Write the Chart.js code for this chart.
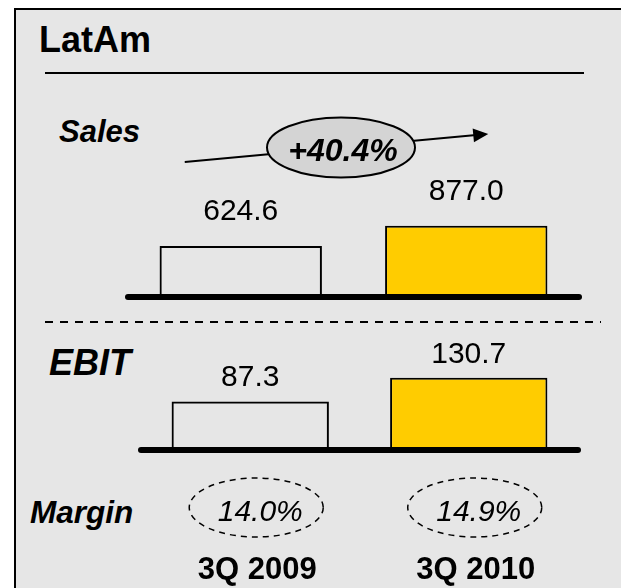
<!DOCTYPE html>
<html>
<head>
<meta charset="utf-8">
<script src="https://cdn.jsdelivr.net/npm/chart.js@4.4.0/dist/chart.umd.min.js"></script>
<style>
  html, body { margin:0; padding:0; background:#fff; width:621px; height:588px; overflow:hidden;
    font-family:"Liberation Sans", Arial, sans-serif; }
  #panel { position:absolute; left:14px; top:8px; width:607px; height:580px; box-sizing:border-box;
    border-left:2px solid #000; border-top:2px solid #000; background:#e6e6e6; }
  canvas { position:absolute; left:0; top:0; }
  .lbl { position:absolute; line-height:1; white-space:nowrap; color:#000; }
  #title  { left:39px; top:22px; font-size:36px; font-weight:bold; }
  #rule   { position:absolute; left:45px; top:72px; width:539px; height:2px; background:#000; }
  #dashes { position:absolute; left:45px; top:321px; width:556px; height:2px;
    background:repeating-linear-gradient(to right,#000 0 8px,transparent 8px 15px); }
  #sales  { left:59px; top:116px; font-size:31px; font-weight:bold; font-style:italic; }
  #ebit   { left:49px; top:345px; font-size:36px; font-weight:bold; font-style:italic; }
  #margin { left:30px; top:497px; font-size:31.5px; font-weight:bold; font-style:italic; }
</style>
</head>
<body>
<div id="panel"></div>
<div class="lbl" id="title">LatAm</div>
<div id="rule"></div>
<div id="dashes"></div>
<div class="lbl" id="sales">Sales</div>
<div class="lbl" id="ebit">EBIT</div>
<div class="lbl" id="margin">Margin</div>
<canvas id="chart-sales" width="621" height="588"></canvas>
<canvas id="chart-ebit" width="621" height="588"></canvas>
<script>
// ---- data ----
const categories   = ['3Q 2009', '3Q 2010'];
const salesValues  = [624.6, 877.0];
const ebitValues   = [87.3, 130.7];
const marginLabels = ['14.0%', '14.9%'];
const salesGrowth  = '+40.4%';

const FONT   = '"Liberation Sans", Arial, sans-serif';
const YELLOW = '#ffcc00';
const barFill = ['rgba(0,0,0,0)', YELLOW];

// thick baseline + value labels above the bars
function barDecor(id, gap, extra) {
  return {
    id,
    afterDatasetsDraw(chart) {
      const { ctx, chartArea } = chart;
      ctx.save();
      ctx.strokeStyle = '#000';
      ctx.lineWidth = 6;
      ctx.lineCap = 'round';
      ctx.beginPath();
      ctx.moveTo(chartArea.left, chartArea.bottom + 1);
      ctx.lineTo(chartArea.right, chartArea.bottom + 1);
      ctx.stroke();

      const ds = chart.data.datasets[0].data;
      ctx.fillStyle = '#000';
      ctx.font = '30px ' + FONT;
      ctx.textAlign = 'center';
      ctx.textBaseline = 'alphabetic';
      chart.getDatasetMeta(0).data.forEach((bar, i) => {
        ctx.fillText(ds[i].toFixed(1), bar.x, bar.y - gap);
      });
      ctx.restore();
      if (extra) extra(chart);
    }
  };
}

// growth arrow with the grey oval
function drawGrowth(chart) {
  const { ctx, chartArea, scales } = chart;
  const x0 = scales.x.getPixelForValue(0), x1 = scales.x.getPixelForValue(1);
  const sx = x0 - 56, sy = chartArea.top + 2;
  const ex = x1 + 22, ey = chartArea.top - 26;
  ctx.save();
  ctx.strokeStyle = '#000';
  ctx.fillStyle = '#000';
  ctx.lineWidth = 2;
  ctx.beginPath();
  ctx.moveTo(sx, sy);
  ctx.lineTo(ex - 12, ey + 1.1);
  ctx.stroke();
  const ang = Math.atan2(ey - sy, ex - sx);
  ctx.beginPath();
  ctx.moveTo(ex, ey);
  ctx.lineTo(ex - 15 * Math.cos(ang) + 7 * Math.sin(ang), ey - 15 * Math.sin(ang) - 7 * Math.cos(ang));
  ctx.lineTo(ex - 15 * Math.cos(ang) - 7 * Math.sin(ang), ey - 15 * Math.sin(ang) + 7 * Math.cos(ang));
  ctx.closePath();
  ctx.fill();

  const cx = (x0 + x1) / 2 - 12.5, cy = chartArea.top - 12.5;
  ctx.beginPath();
  ctx.ellipse(cx, cy, 74, 30, 0, 0, Math.PI * 2);
  ctx.fillStyle = '#d4d4d4';
  ctx.fill();
  ctx.stroke();
  ctx.fillStyle = '#000';
  ctx.font = 'italic bold 32px ' + FONT;
  ctx.textAlign = 'center';
  ctx.textBaseline = 'alphabetic';
  ctx.fillText(salesGrowth, cx + 2, cy + 13.5);
  ctx.restore();
}

// dashed ovals with margin percentages, period labels underneath
function drawMargins(chart) {
  const { ctx, scales } = chart;
  ctx.save();
  ctx.strokeStyle = '#000';
  ctx.fillStyle = '#000';
  ctx.lineWidth = 1.5;
  ctx.setLineDash([6, 5]);
  ctx.textAlign = 'center';
  ctx.textBaseline = 'alphabetic';
  categories.forEach((c, i) => {
    const x = scales.x.getPixelForValue(i);
    ctx.beginPath();
    ctx.ellipse(x + 6, 507.5, 67, 29.5, 0, 0, Math.PI * 2);
    ctx.stroke();
    ctx.font = 'italic 30px ' + FONT;
    ctx.fillText(marginLabels[i], x + 10, 521);
    ctx.font = 'bold 31px ' + FONT;
    ctx.fillText(c, x + 7, 579);
  });
  ctx.restore();
}

function barDataset(data) {
  return {
    data,
    backgroundColor: barFill,
    borderColor: '#000',
    borderWidth: 2,
    borderSkipped: false,
    categoryPercentage: 1,
    barPercentage: 0.72,
  };
}

Chart.defaults.font.family = FONT;

new Chart(document.getElementById('chart-sales'), {
  type: 'bar',
  data: { labels: categories, datasets: [barDataset(salesValues)] },
  options: {
    responsive: false,
    animation: false,
    devicePixelRatio: 1,
    layout: { padding: { left: 128, right: 42, top: 160, bottom: 292 } },
    plugins: { legend: { display: false }, tooltip: { enabled: false } },
    scales: {
      x: { display: false },
      y: { display: false, min: 0, max: 1700 },
    }
  },
  plugins: [barDecor('salesDecor', 26, drawGrowth)]
});

new Chart(document.getElementById('chart-ebit'), {
  type: 'bar',
  data: { labels: categories, datasets: [barDataset(ebitValues)] },
  options: {
    responsive: false,
    animation: false,
    devicePixelRatio: 1,
    layout: { padding: { left: 141, right: 43, top: 369, bottom: 139 } },
    plugins: { legend: { display: false }, tooltip: { enabled: false } },
    scales: {
      x: { display: false },
      y: { display: false, min: 0, max: 147 },
    }
  },
  plugins: [barDecor('ebitDecor', 15, drawMargins)]
});
</script>
</body>
</html>
